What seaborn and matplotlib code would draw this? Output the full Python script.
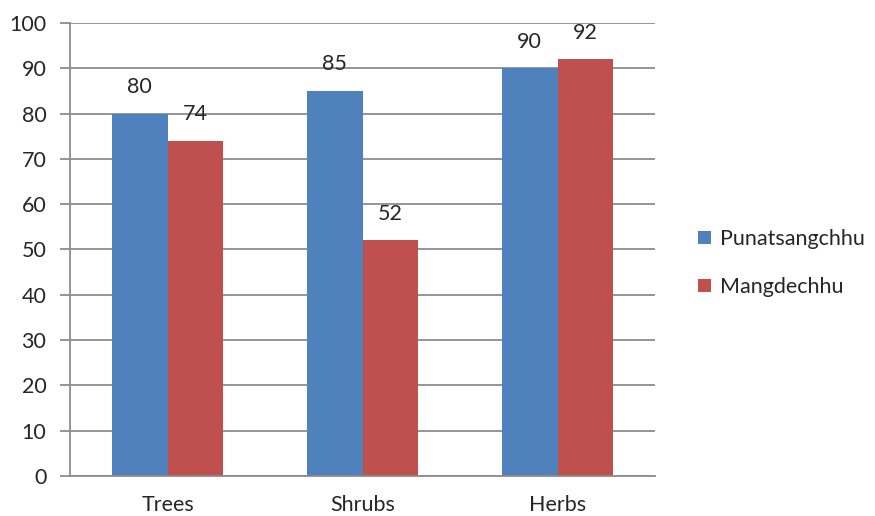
import matplotlib
matplotlib.use("Agg")
import matplotlib.pyplot as plt
import seaborn as sns
import pandas as pd
from matplotlib.ticker import FixedLocator

categories = ["Trees", "Shrubs", "Herbs"]
series_names = ["Punatsangchhu", "Mangdechhu"]
punatsangchhu = [80, 85, 90]
mangdechhu = [74, 52, 92]
y_ticks = [0, 10, 20, 30, 40, 50, 60, 70, 80, 90, 100]

colors = ["#4F81BD", "#C0504D"]

df = pd.DataFrame({
    "category": categories * 2,
    "site": [series_names[0]] * 3 + [series_names[1]] * 3,
    "value": punatsangchhu + mangdechhu,
})

sns.set_style("white")
plt.rcParams["font.family"] = ["Lato", "DejaVu Sans"]
FS = 15.5

fig = plt.figure(figsize=(8.75, 5.16), dpi=100)
ax = fig.add_axes([0.08, 0.0775, 0.6686, 0.878])

sns.barplot(data=df, x="category", y="value", hue="site", order=categories,
            hue_order=series_names, palette=colors, width=0.57, gap=0,
            linewidth=0, saturation=1, ax=ax, legend=True)

ax.set_ylim(0, 100)
ax.set_xlim(-0.5, 2.5)
ax.set_yticks(y_ticks)
ax.set_yticklabels([str(t) for t in y_ticks], fontsize=FS)
ax.yaxis.grid(True, color="#8c8c8c", linewidth=1.3)
ax.set_axisbelow(True)

# category boundaries carry the x tick marks
ax.xaxis.set_minor_locator(FixedLocator([-0.5, 0.5, 1.5, 2.5]))
ax.tick_params(axis="x", which="major", length=0, pad=14, labelsize=FS)
ax.tick_params(axis="x", which="minor", length=6, width=1.3, color="#8c8c8c", direction="out")
ax.tick_params(axis="y", which="major", length=7, width=1.3, color="#8c8c8c",
               direction="out", left=True, pad=10)
ax.set_xlabel("")
ax.set_ylabel("")

for side in ["top", "right"]:
    ax.spines[side].set_visible(False)
for side in ["left", "bottom"]:
    ax.spines[side].set_color("#8c8c8c")
    ax.spines[side].set_linewidth(1.3)

for container in ax.containers:
    ax.bar_label(container, fmt="%g", padding=12, fontsize=FS)

handles, labels = ax.get_legend_handles_labels()
ax.legend(handles, labels, loc="center left", bbox_to_anchor=(1.04, 0.47),
          frameon=False, fontsize=FS, handlelength=0.6, handleheight=0.6,
          handletextpad=0.45, labelspacing=1.3)

fig.savefig("out.png", dpi=100)
